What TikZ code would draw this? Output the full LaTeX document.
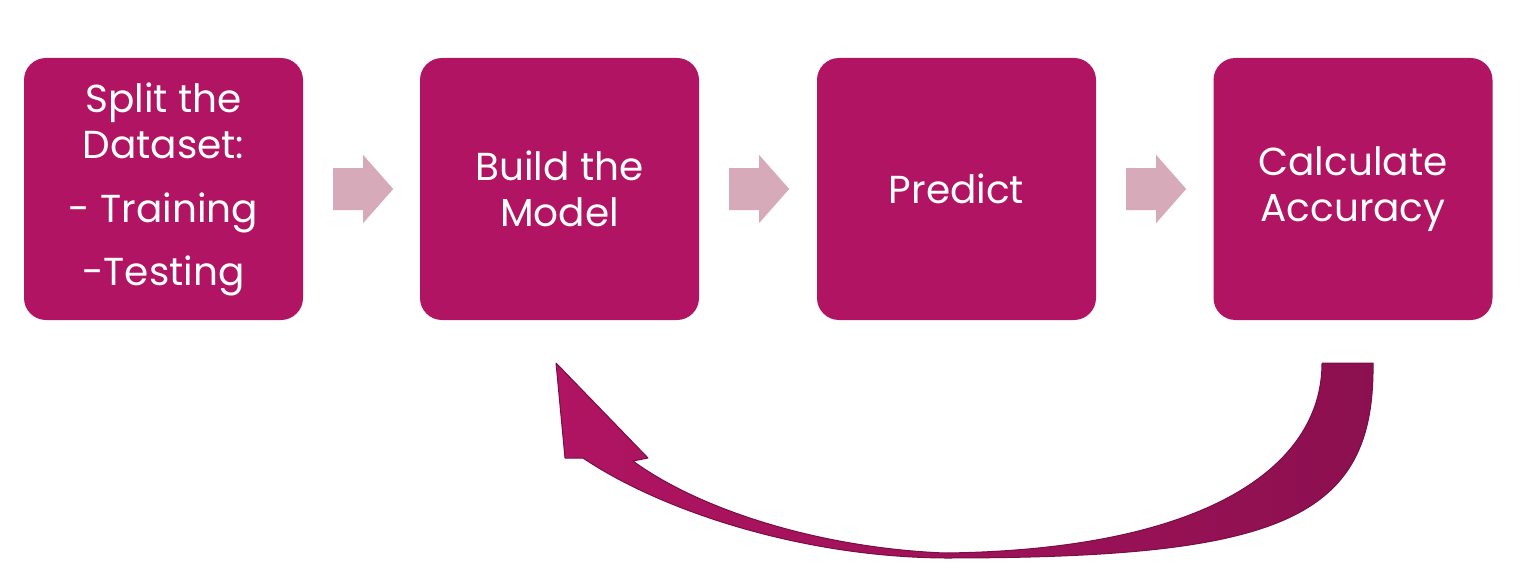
\documentclass[tikz,border=0pt]{standalone}
\usepackage{fontspec}
\setmainfont{Poppins}
\usetikzlibrary{calc}
\definecolor{berry}{RGB}{176,20,98}
\definecolor{berrydark}{RGB}{140,16,80}
\definecolor{berryline}{RGB}{120,14,68}
\definecolor{pinkarrow}{RGB}{215,170,186}
\begin{document}
\begin{tikzpicture}[x=1pt,y=-1pt,
  stepbox/.style={fill=berry,draw=none,rounded corners=22pt,minimum width=279pt,minimum height=262pt,inner sep=0pt},
  steptext/.style={text=white,align=center,font=\fontsize{39}{46}\selectfont},
  blockarrow/.style={fill=pinkarrow,draw=none}]
\useasboundingbox (0,0) rectangle (1525,575);
\node[stepbox] (b1) at (163.5,189) {};
\node[stepbox] (b2) at (559.5,189) {};
\node[stepbox] (b3) at (956.5,189) {};
\node[stepbox] (b4) at (1353,189) {};
\node[steptext] (t1) at (b1.center) {Split the\\Dataset:\\[18pt]- Training\\[17pt]-Testing};
\node[steptext] (t2) at (b2.center) {Build the\\Model};
\node[steptext] (t3) at (b3.center) {Predict};
\node[steptext] (t4) at (b4.center) {Calculate\\Accuracy};
\foreach \a in {b1,b2,b3}{
  \fill[blockarrow] ($(\a.east)+(30,-21)$) -- ++(30,0) -- ++(0,-13) -- ++(30,34) -- ++(-30,34) -- ++(0,-13) -- ++(-30,0) -- cycle;
}
\shade[left color=berry,right color=berrydark,draw=berryline,line width=1pt,line join=round]
  (1322,363) -- (1373,363)
  .. controls (1375,520) and (1280,558) .. (945,558)
  .. controls (800,557) and (660,510) .. (583,458)
  -- (565,458) -- (556,363) -- (648,458) -- (633,461)
  .. controls (700,510) and (820,548) .. (945,553)
  .. controls (1200,550) and (1322,470) .. (1322,363) -- cycle;
\end{tikzpicture}
\end{document}
